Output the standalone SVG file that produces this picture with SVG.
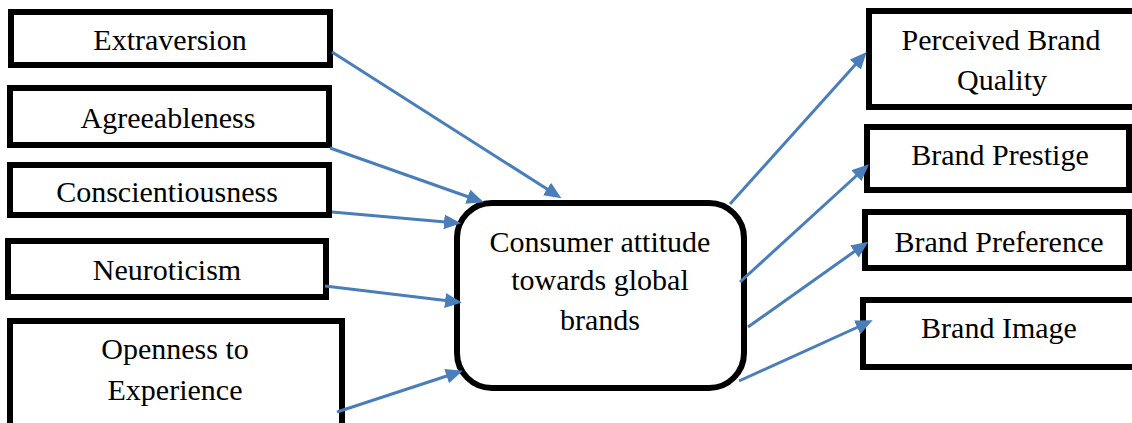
<svg xmlns="http://www.w3.org/2000/svg" width="1132" height="423" viewBox="0 0 1132 423" font-family="Liberation Serif, DejaVu Serif, serif">
  <style>
    .box { fill: #ffffff; stroke: #000000; stroke-width: 6; }
    .lbl { font-size: 30px; fill: #000000; text-anchor: middle; }
    .link { stroke: #4A7EBB; stroke-width: 3; fill: none; marker-end: url(#arrow); }
  </style>
  <defs>
    <marker id="arrow" markerUnits="userSpaceOnUse" markerWidth="18" markerHeight="16" refX="13" refY="7.5" orient="auto">
      <path d="M0,0 L17,7.5 L0,15 z" fill="#4A7EBB"/>
    </marker>
  </defs>

  <rect width="1132" height="423" fill="#ffffff"/>

  <!-- personality traits -->
  <g id="extraversion">
    <rect class="box" x="11" y="12" width="319" height="53"/>
    <text class="lbl" x="170" y="50">Extraversion</text>
  </g>
  <g id="agreeableness">
    <rect class="box" x="10" y="88" width="319" height="57"/>
    <text class="lbl" x="168" y="128">Agreeableness</text>
  </g>
  <g id="conscientiousness">
    <rect class="box" x="10" y="165" width="319" height="50"/>
    <text class="lbl" x="167" y="202">Conscientiousness</text>
  </g>
  <g id="neuroticism">
    <rect class="box" x="8" y="241" width="318" height="56"/>
    <text class="lbl" x="167" y="280">Neuroticism</text>
  </g>
  <g id="openness">
    <rect class="box" x="10" y="321" width="332" height="120"/>
    <text class="lbl" x="175" y="359">Openness to</text>
    <text class="lbl" x="175" y="400">Experience</text>
  </g>

  <!-- central construct -->
  <g id="attitude">
    <rect class="box" x="457" y="203" width="287" height="185" rx="35" ry="35"/>
    <text class="lbl" x="600" y="252">Consumer attitude</text>
    <text class="lbl" x="600" y="290">towards global</text>
    <text class="lbl" x="600" y="330">brands</text>
  </g>

  <!-- brand outcomes -->
  <g id="quality">
    <rect class="box" x="869" y="11" width="280" height="96"/>
    <text class="lbl" x="1001" y="50">Perceived Brand</text>
    <text class="lbl" x="1002" y="90">Quality</text>
  </g>
  <g id="prestige">
    <rect class="box" x="867" y="127" width="262" height="63"/>
    <text class="lbl" x="1000" y="165">Brand Prestige</text>
  </g>
  <g id="preference">
    <rect class="box" x="865" y="212" width="264" height="56"/>
    <text class="lbl" x="999" y="252">Brand Preference</text>
  </g>
  <g id="image">
    <rect class="box" x="863" y="300" width="290" height="67"/>
    <text class="lbl" x="999" y="338">Brand Image</text>
  </g>

  <!-- connectors -->
  <g id="connectors">
    <line class="link" x1="332" y1="52" x2="558" y2="196"/>
    <line class="link" x1="330" y1="148" x2="480" y2="201"/>
    <line class="link" x1="332" y1="212" x2="457" y2="223"/>
    <line class="link" x1="325" y1="286" x2="458" y2="302"/>
    <line class="link" x1="337" y1="412" x2="459" y2="372"/>
    <line class="link" x1="730" y1="204" x2="864" y2="55"/>
    <line class="link" x1="740" y1="282" x2="866" y2="167"/>
    <line class="link" x1="748" y1="327" x2="865" y2="244"/>
    <line class="link" x1="739" y1="381" x2="869" y2="322"/>
  </g>
</svg>
